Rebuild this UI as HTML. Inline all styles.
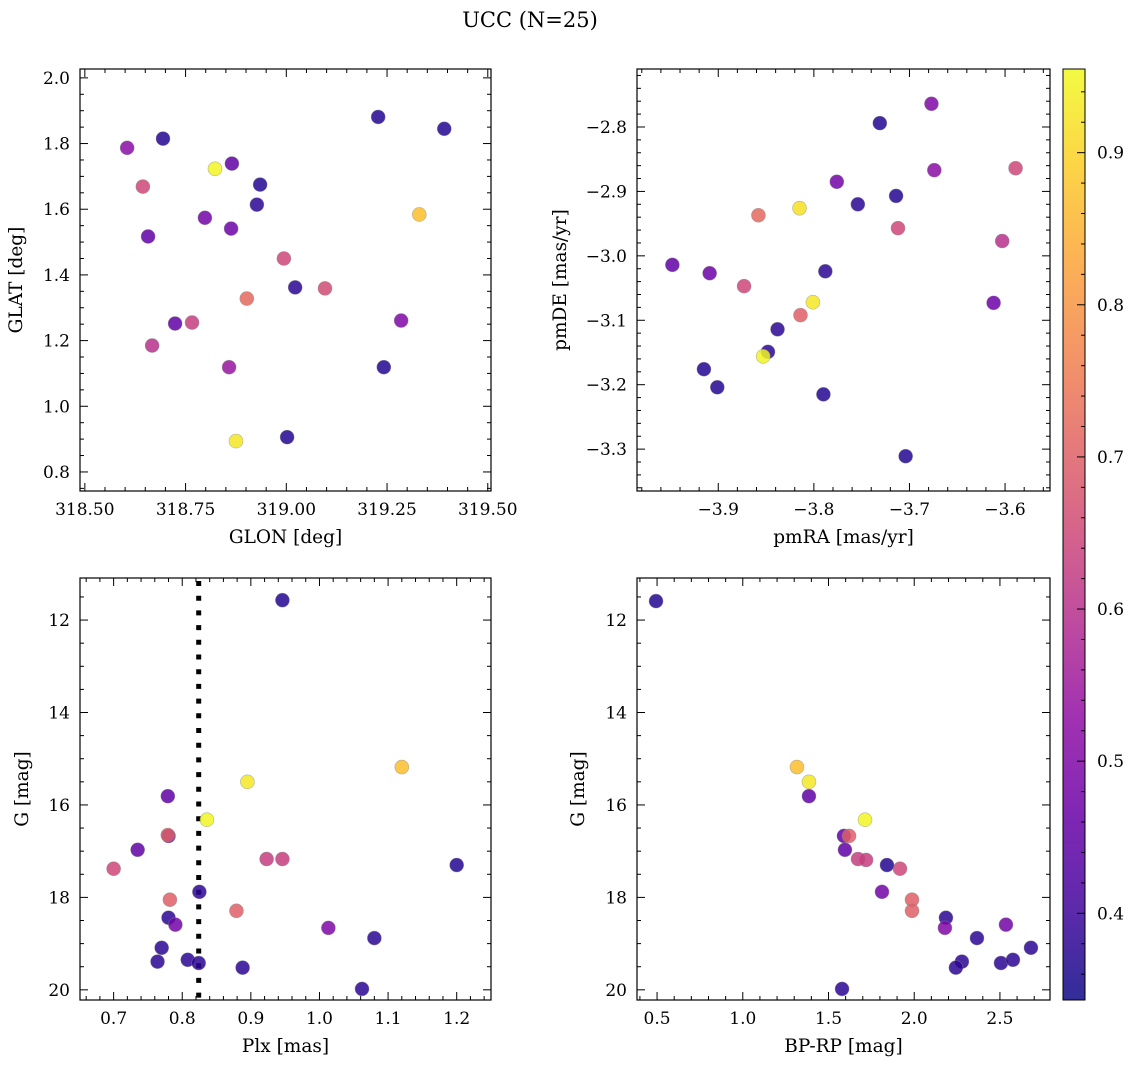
<!DOCTYPE html>
<html><head><meta charset="utf-8"><style>
html,body{margin:0;padding:0;background:#fff;}
svg{display:block;font-family:"DejaVu Serif","Liberation Serif",serif;}
</style></head><body>
<svg id="fig" width="1136" height="1068" xmlns="http://www.w3.org/2000/svg">
<text x="530" y="27" font-size="21" text-anchor="middle">UCC (N=25)</text>
</svg>
<script>
// ---- data (per panel) ----
const glon = [318.605,318.694,318.823,318.865,318.644,318.935,318.798,318.927,318.657,318.863,319.228,319.392,319.330,318.994,319.022,319.096,318.902,318.724,318.766,319.285,318.667,318.858,319.242,318.875,319.002];
const glat = [1.787,1.815,1.723,1.739,1.669,1.675,1.574,1.614,1.517,1.541,1.881,1.845,1.584,1.450,1.362,1.359,1.328,1.252,1.255,1.261,1.185,1.119,1.119,0.894,0.906];
const probA = [0.52,0.37,0.95,0.45,0.65,0.37,0.48,0.38,0.45,0.47,0.37,0.37,0.87,0.65,0.38,0.66,0.72,0.45,0.63,0.50,0.60,0.54,0.37,0.93,0.37];

const pmra = [-3.677,-3.731,-3.674,-3.589,-3.776,-3.714,-3.815,-3.754,-3.858,-3.712,-3.603,-3.948,-3.788,-3.909,-3.873,-3.801,-3.612,-3.814,-3.838,-3.848,-3.853,-3.915,-3.901,-3.790,-3.704];
const pmde = [-2.764,-2.794,-2.867,-2.864,-2.885,-2.907,-2.926,-2.920,-2.937,-2.957,-2.977,-3.014,-3.024,-3.027,-3.047,-3.072,-3.073,-3.092,-3.114,-3.149,-3.156,-3.176,-3.204,-3.215,-3.311];
const probB = [0.50,0.37,0.52,0.65,0.48,0.37,0.92,0.38,0.72,0.65,0.60,0.45,0.38,0.47,0.65,0.93,0.47,0.70,0.38,0.38,0.95,0.37,0.37,0.37,0.37];

const plx = [0.946,1.120,0.895,0.779,0.836,0.780,0.779,0.735,0.923,0.946,0.700,1.200,0.825,0.782,0.780,0.790,0.879,1.013,1.080,0.770,0.764,0.808,0.824,0.888,1.062];
const gmagC = [11.57,15.18,15.50,15.81,16.32,16.67,16.65,16.97,17.17,17.17,17.38,17.30,17.88,18.05,18.44,18.59,18.29,18.66,18.88,19.09,19.39,19.35,19.42,19.52,19.98];
const probC = [0.37,0.87,0.93,0.45,0.95,0.42,0.70,0.45,0.63,0.63,0.65,0.37,0.38,0.70,0.38,0.48,0.70,0.50,0.38,0.38,0.38,0.38,0.38,0.38,0.38];
const plxLine = 0.824;

const bprp = [0.494,1.316,1.386,1.386,1.713,1.590,1.620,1.596,1.672,1.719,1.917,1.841,1.812,1.987,1.987,2.185,2.179,2.535,2.366,2.681,2.278,2.506,2.576,2.243,1.579];
const gmagD = [11.59,15.18,15.50,15.81,16.32,16.67,16.67,16.97,17.17,17.19,17.38,17.30,17.88,18.05,18.29,18.44,18.66,18.59,18.88,19.09,19.39,19.42,19.35,19.52,19.98];
const probD = [0.37,0.87,0.93,0.45,0.95,0.45,0.70,0.45,0.63,0.63,0.65,0.37,0.48,0.70,0.70,0.38,0.50,0.48,0.38,0.38,0.38,0.38,0.38,0.38,0.38];

const xTicksA=[318.50,318.75,319.00,319.25,319.50], yTicksA=[0.8,1.0,1.2,1.4,1.6,1.8,2.0];
const xTicksB=[-3.9,-3.8,-3.7,-3.6], yTicksB=[-3.3,-3.2,-3.1,-3.0,-2.9,-2.8];
const xTicksC=[0.7,0.8,0.9,1.0,1.1,1.2], yTicksG=[12,14,16,18,20];
const xTicksD=[0.5,1.0,1.5,2.0,2.5];
const cbTicks=[0.4,0.5,0.6,0.7,0.8,0.9];
const vmin=0.343, vmax=0.955;

// ---- helpers ----
const NS="http://www.w3.org/2000/svg";
const svg=document.getElementById('fig');
const TF=17, LF=18.5;
function mk(tag,attrs,parent){const e=document.createElementNS(NS,tag);for(const k in attrs)e.setAttribute(k,attrs[k]);(parent||svg).appendChild(e);return e;}
const plasma=[[13,8,135],[65,4,157],[106,0,168],[143,13,164],[177,42,144],[204,71,120],[225,100,98],[242,132,75],[252,166,54],[252,206,37],[240,249,33]];
function cmap(v){let t=(v-vmin)/(vmax-vmin);t=Math.max(0,Math.min(1,t))*10;const i=Math.min(9,Math.floor(t)),f=t-i;const a=plasma[i],b=plasma[i+1];
 return 'rgb('+a.map((c,k)=>Math.round(c+(b[k]-c)*f)).join(',')+')';}
function fmt(v,d){const s=Math.abs(v).toFixed(d);return (v<0?'\u2212':'')+s;}

function panel(cfg){
 const {name,x0,x1,y0,y1,xmin,xmax,ymin,ymax,invY,xt,yt,xd,yd,xminor,yminor,xlabel,ylabel}=cfg;
 const g=mk('g',{});
 
 
 const sx=v=>x0+(v-xmin)/(xmax-xmin)*(x1-x0);
 const sy=invY? v=>y0+(v-ymin)/(ymax-ymin)*(y1-y0) : v=>y1-(v-ymin)/(ymax-ymin)*(y1-y0);
 const tg=mk('g',{stroke:'#000','stroke-width':1},g);
 
 
 const eps=1e-9;
 for(let v=Math.ceil(xmin/xminor-eps)*xminor; v<=xmax+eps; v+=xminor){
   const isMaj=xt.some(t=>Math.abs(t-v)<xminor/3);const L=isMaj?8:4;const x=sx(v);
   mk('line',{x1:x,x2:x,y1:y1,y2:y1-L},tg);mk('line',{x1:x,x2:x,y1:y0,y2:y0+L},tg);}
 for(let v=Math.ceil(Math.min(ymin,ymax)/yminor-eps)*yminor; v<=Math.max(ymin,ymax)+eps; v+=yminor){
   const isMaj=yt.some(t=>Math.abs(t-v)<yminor/3);const L=isMaj?8:4;const y=sy(v);
   mk('line',{x1:x0,x2:x0+L,y1:y,y2:y},tg);mk('line',{x1:x1,x2:x1-L,y1:y,y2:y},tg);}
 xt.forEach(t=>{const e=mk('text',{x:sx(t),y:y1+24,'font-size':TF,'text-anchor':'middle'},g);e.textContent=fmt(t,xd);
   
   });
 yt.forEach(t=>{const e=mk('text',{x:x0-10,y:sy(t)+6,'font-size':TF,'text-anchor':'end'},g);e.textContent=fmt(t,yd);
   
   });
 const xl=mk('text',{x:(x0+x1)/2,y:y1+52,'font-size':LF,'text-anchor':'middle'},g);xl.textContent=xlabel;
 
 
 const yx=cfg.ylx, yy=(y0+y1)/2;
 const yl=mk('text',{x:yx,y:yy,'font-size':LF,'text-anchor':'middle',transform:'rotate(-90 '+yx+' '+yy+')'},g);yl.textContent=ylabel;
 
 
 return {g,sx,sy};
}
function points(p,xs,ys,ps){
 const pg=mk('g',{},p.g);
 
 
 for(let i=0;i<xs.length;i++){
   const c=mk('circle',{cx:p.sx(xs[i]),cy:p.sy(ys[i]),r:7,fill:cmap(ps[i]),'fill-opacity':0.85,stroke:'#888','stroke-opacity':0.6,'stroke-width':0.6},pg);
   
   
 }
}
function frame(p,x0,y0,x1,y1){const r=mk('rect',{x:x0,y:y0,width:x1-x0,height:y1-y0,fill:'none',stroke:'#000','stroke-width':1.2},p.g);
 
 }

const pA=panel({name:'glon-glat-panel',x0:80,x1:491,y0:69,y1:491,xmin:318.488,xmax:319.508,ymin:0.742,ymax:2.027,xt:xTicksA,yt:yTicksA,xd:2,yd:1,xminor:0.05,yminor:0.05,xlabel:'GLON [deg]',ylabel:'GLAT [deg]',ylx:22});
points(pA,glon,glat,probA);frame(pA,80,69,491,491);
const pB=panel({name:'pm-panel',x0:637,x1:1050,y0:69,y1:491,xmin:-3.985,xmax:-3.553,ymin:-3.365,ymax:-2.710,xt:xTicksB,yt:yTicksB,xd:1,yd:1,xminor:0.02,yminor:0.02,xlabel:'pmRA [mas/yr]',ylabel:'pmDE [mas/yr]',ylx:566});
points(pB,pmra,pmde,probB);frame(pB,637,69,1050,491);
const pC=panel({name:'plx-g-panel',x0:80,x1:491,y0:578,y1:1000,xmin:0.651,xmax:1.250,ymin:11.09,ymax:20.22,invY:true,xt:xTicksC,yt:yTicksG,xd:1,yd:0,xminor:0.02,yminor:0.5,xlabel:'Plx [mas]',ylabel:'G [mag]',ylx:28});
const vl=mk('line',{x1:pC.sx(plxLine),x2:pC.sx(plxLine),y1:581,y2:1000,stroke:'#000','stroke-width':5,'stroke-dasharray':'5 9.7'},pC.g);


points(pC,plx,gmagC,probC);frame(pC,80,578,491,1000);
const pD=panel({name:'cmd-panel',x0:637,x1:1050,y0:578,y1:1000,xmin:0.383,xmax:2.792,ymin:11.09,ymax:20.22,invY:true,xt:xTicksD,yt:yTicksG,xd:1,yd:0,xminor:0.1,yminor:0.5,xlabel:'BP-RP [mag]',ylabel:'G [mag]',ylx:584});
points(pD,bprp,gmagD,probD);frame(pD,637,578,1050,1000);

const cb=mk('g',{});


const defs=mk('defs',{},cb);
const lg=mk('linearGradient',{id:'cbg',x1:0,y1:1,x2:0,y2:0},defs);
for(let i=0;i<=20;i++){const v=vmin+(vmax-vmin)*i/20;mk('stop',{offset:i/20,'stop-color':cmap(v),'stop-opacity':0.85},lg);}
const cy0=69,cy1=1000,cx0=1063,cx1=1085;
mk('rect',{x:cx0,y:cy0,width:cx1-cx0,height:cy1-cy0,fill:'url(#cbg)',stroke:'#000','stroke-width':1},cb);
const cby=v=>cy1-(v-vmin)/(vmax-vmin)*(cy1-cy0);
for(let v=0.36;v<vmax;v+=0.02){const y=cby(v);const maj=cbTicks.some(t=>Math.abs(t-v)<0.005);
 mk('line',{x1:cx1,x2:cx1-(maj?8:4),y1:y,y2:y,stroke:'#000','stroke-width':1},cb);}
cbTicks.forEach(t=>{const e=mk('text',{x:cx1+12,y:cby(t)+6,'font-size':TF},cb);e.textContent=t.toFixed(1);
 
 });
</script>
</body></html>
